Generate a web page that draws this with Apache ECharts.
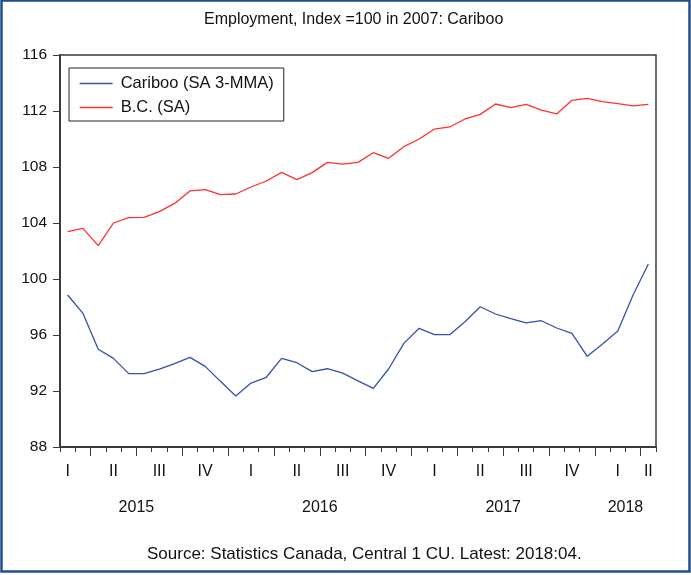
<!DOCTYPE html>
<html>
<head>
<meta charset="utf-8">
<script src="https://cdn.jsdelivr.net/npm/echarts@6/dist/echarts.min.js"></script>
<style>
html,body{margin:0;padding:0;background:#fff;}
#chart{width:691px;height:575px;}
</style>
</head>
<body>
<div id="chart"></div>
<script>
// ---- data (monthly, Feb 2015 - Apr 2018) ----
var firstYear = 2015, firstMonth = 2, monthCount = 39;
var cariboo = [98.86, 97.55, 94.98, 94.33, 93.24, 93.24, 93.57, 93.95, 94.40, 93.76,
               92.69, 91.64, 92.57, 92.98, 94.33, 94.02, 93.38, 93.59, 93.28, 92.72,
               92.19, 93.57, 95.40, 96.48, 96.02, 96.02, 96.95, 98.02, 97.50, 97.17,
               96.86, 97.02, 96.50, 96.12, 94.48, 95.36, 96.29, 98.86, 101.07];
var bc = [103.38, 103.62, 102.38, 104.00, 104.38, 104.40, 104.81, 105.40, 106.29, 106.38,
          106.02, 106.07, 106.57, 107.00, 107.62, 107.10, 107.60, 108.33, 108.21, 108.33,
          109.02, 108.62, 109.45, 110.00, 110.71, 110.86, 111.43, 111.76, 112.50, 112.24,
          112.48, 112.07, 111.79, 112.76, 112.90, 112.67, 112.52, 112.36, 112.48];
var seriesNames = ['Cariboo (SA 3-MMA)', 'B.C. (SA)'];
var quarterNames = ['I', 'II', 'III', 'IV'];
var yTicks = {min: 88, max: 116, step: 4};
var titleText = 'Employment, Index =100 in 2007: Cariboo';
var sourceText = 'Source: Statistics Canada, Central 1 CU. Latest: 2018:04.';

// ---- derived axis info ----
var months = [];
for (var i = 0; i < monthCount; i++) {
  var m = firstMonth - 1 + i;
  var y = firstYear + Math.floor(m / 12);
  var mm = (m % 12) + 1;
  months.push(y + '-' + (mm < 10 ? '0' + mm : mm));
}
// month index (category units, boundary-based) of Jan of firstYear
var janOffset = -(firstMonth - 1);
function clip(a) { return Math.max(janOffset, Math.min(monthCount, a)); }
var lastYear = firstYear + Math.floor((firstMonth - 1 + monthCount - 1) / 12);
var quarterBoundaries = [], quarterLabelPos = [], quarterLabelMap = {};
var yearLabelPos = [], yearLabelMap = {};
for (var yr = firstYear; yr <= lastYear; yr++) {
  var ys = janOffset + (yr - firstYear) * 12;
  var a = clip(ys), b = clip(ys + 12);
  if (b > a) { var c = (a + b) / 2; yearLabelPos.push(c); yearLabelMap[c] = String(yr); }
  for (var q = 0; q < 4; q++) {
    var qs = ys + q * 3;
    var qa = clip(qs), qb = clip(qs + 3);
    if (qb > qa) {
      var qc = (qa + qb) / 2;
      quarterLabelPos.push(qc); quarterLabelMap[qc] = quarterNames[q];
    }
    if (qs > 0 && qs < monthCount) quarterBoundaries.push(qs);
  }
}

var FONT = 'Liberation Sans, Arial, sans-serif';
var axisColor = '#3a3a3a';

var chart = echarts.init(document.getElementById('chart'), null, {renderer: 'canvas'});
chart.setOption({
  backgroundColor: '#fff',
  animation: false,
  title: [
    {text: titleText, left: 199, top: 7,
     textStyle: {fontFamily: FONT, fontSize: 16, fontWeight: 'normal', color: '#111'}},
    {text: sourceText, left: 142, top: 541,
     textStyle: {fontFamily: FONT, fontSize: 17, fontWeight: 'normal', color: '#111'}}
  ],
  graphic: [{
    type: 'rect', shape: {x: 1.5, y: 0.5, width: 688, height: 571},
    style: {fill: 'none', stroke: '#1f4e8c', lineWidth: 2.5}, silent: true
  }],
  legend: {
    orient: 'vertical', left: 69, top: 68,
    data: seriesNames,
    borderColor: '#222', borderWidth: 1, borderRadius: 0,
    padding: [7, 10, 5, 10],
    itemWidth: 33, itemHeight: 14, itemGap: 7,
    itemStyle: {opacity: 0},
    lineStyle: {width: 1.3},
    textStyle: {fontFamily: FONT, fontSize: 16.5, color: '#111', padding: [0, 0, 0, 3]}
  },
  grid: {left: 60, right: 35, top: 55, bottom: 128, show: true,
         borderColor: axisColor, borderWidth: 1.5, backgroundColor: 'transparent'},
  xAxis: [
    {type: 'category', data: months, boundaryGap: true, position: 'bottom',
     axisLine: {show: true, lineStyle: {color: axisColor, width: 2}},
     axisTick: {show: true, interval: 0, length: 5, lineStyle: {color: axisColor, width: 1}},
     axisLabel: {show: false}, splitLine: {show: false}},
    {type: 'value', min: 0, max: monthCount, position: 'bottom',
     axisLine: {show: false}, splitLine: {show: false},
     axisTick: {show: true, customValues: quarterBoundaries, length: 9,
                lineStyle: {color: axisColor, width: 1}},
     axisLabel: {show: true, customValues: quarterLabelPos, margin: 17,
                 fontFamily: FONT, fontSize: 16, color: '#111',
                 formatter: function (v) { return quarterLabelMap[v] || ''; }}},
    {type: 'value', min: 0, max: monthCount, position: 'bottom',
     axisLine: {show: false}, splitLine: {show: false}, axisTick: {show: false},
     axisLabel: {show: true, customValues: yearLabelPos, margin: 53,
                 fontFamily: FONT, fontSize: 16, color: '#111',
                 formatter: function (v) { return yearLabelMap[v] || ''; }}}
  ],
  yAxis: {
    type: 'value', min: yTicks.min, max: yTicks.max, interval: yTicks.step,
    axisLine: {show: true, lineStyle: {color: axisColor, width: 2}},
    axisTick: {show: true, length: 7, lineStyle: {color: axisColor, width: 1}},
    axisLabel: {margin: 13, fontFamily: FONT, fontSize: 15.5, color: '#111'},
    splitLine: {show: false}
  },
  series: [
    {name: seriesNames[0], type: 'line', xAxisIndex: 0, data: cariboo,
     symbol: 'none', lineStyle: {color: '#3652a8', width: 1.3}, itemStyle: {color: '#3652a8'}},
    {name: seriesNames[1], type: 'line', xAxisIndex: 0, data: bc,
     symbol: 'none', lineStyle: {color: '#ff3030', width: 1.3}, itemStyle: {color: '#ff3030'}}
  ]
});
</script>
</body>
</html>
